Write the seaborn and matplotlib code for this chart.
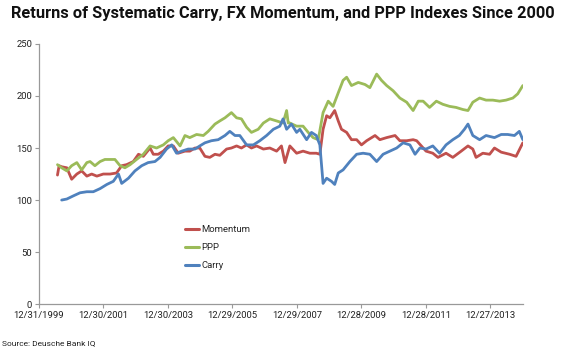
import pandas as pd
import numpy as np
import matplotlib.pyplot as plt
import seaborn as sns

# ---------------- DATA (decimal years) ----------------
mom_t = [2000.57, 2000.62, 2000.70, 2000.86, 2001.01, 2001.17, 2001.32, 2001.48, 2001.63,
         2001.79, 2001.99, 2002.20, 2002.40, 2002.56, 2002.71, 2002.92, 2003.08, 2003.23,
         2003.44, 2003.54, 2003.69, 2003.85, 2004.00, 2004.16, 2004.31, 2004.52, 2004.67,
         2004.83, 2004.98, 2005.14, 2005.29, 2005.45, 2005.60, 2005.81, 2005.96, 2006.12,
         2006.27, 2006.43, 2006.58, 2006.74, 2006.95, 2007.15, 2007.36, 2007.51, 2007.62,
         2007.77, 2007.98, 2008.18, 2008.39, 2008.59, 2008.70, 2008.80, 2008.91, 2009.01,
         2009.16, 2009.27, 2009.37, 2009.53, 2009.68, 2009.84, 2009.99, 2010.15, 2010.41,
         2010.56, 2010.77, 2011.03, 2011.18, 2011.39, 2011.59, 2011.70, 2011.99, 2012.20,
         2012.36, 2012.61, 2012.82, 2013.08, 2013.29, 2013.44, 2013.54, 2013.75, 2013.96,
         2014.11, 2014.32, 2014.58, 2014.78, 2014.99]
mom_v = [124, 133, 132, 131, 120, 125, 128, 123, 125,
         123, 125, 125, 126, 133, 134, 137, 144, 142,
         150, 144, 144, 147, 152, 152, 145, 147, 147,
         150, 150, 142, 141, 144, 143, 149, 150, 152,
         150, 153, 150, 152, 149, 150, 147, 152, 136,
         152, 145, 147, 145, 145, 144, 168, 181, 179,
         186, 176, 168, 165, 158, 158, 153, 157, 162,
         158, 160, 162, 157, 157, 158, 157, 147, 145,
         141, 145, 141, 147, 152, 149, 141, 145, 144,
         150, 146, 144, 142, 155]

ppp_t = [2000.57, 2000.70, 2000.86, 2001.01, 2001.17, 2001.32, 2001.48, 2001.58, 2001.73,
         2001.89, 2002.04, 2002.20, 2002.35, 2002.51, 2002.66, 2002.82, 2003.02, 2003.23,
         2003.44, 2003.64, 2003.85, 2004.00, 2004.16, 2004.37, 2004.52, 2004.67, 2004.88,
         2005.09, 2005.24, 2005.45, 2005.60, 2005.76, 2005.96, 2006.12, 2006.27, 2006.43,
         2006.58, 2006.79, 2006.95, 2007.15, 2007.36, 2007.56, 2007.67, 2007.72, 2007.77,
         2007.98, 2008.18, 2008.34, 2008.49, 2008.65, 2008.80, 2008.96, 2009.11, 2009.27,
         2009.42, 2009.53, 2009.68, 2009.89, 2010.10, 2010.25, 2010.46, 2010.61, 2010.77,
         2010.97, 2011.18, 2011.39, 2011.59, 2011.75, 2011.90, 2012.10, 2012.31, 2012.51,
         2012.72, 2012.92, 2013.13, 2013.29, 2013.44, 2013.65, 2013.85, 2014.06, 2014.27,
         2014.47, 2014.68, 2014.83, 2014.99]
ppp_v = [134, 131, 128, 133, 136, 129, 136, 137, 133,
         137, 139, 139, 139, 133, 131, 134, 139, 144,
         152, 150, 153, 157, 160, 152, 162, 160, 163,
         162, 166, 173, 176, 179, 184, 179, 178, 170,
         165, 168, 174, 178, 176, 174, 186, 174, 174,
         171, 171, 165, 160, 158, 184, 195, 190, 203,
         215, 218, 210, 213, 211, 208, 221, 215, 210,
         205, 198, 194, 186, 195, 195, 189, 195, 192,
         190, 189, 187, 186, 194, 198, 196, 196, 195,
         196, 198, 202, 210]

carry_t = [2000.70, 2000.86, 2001.06, 2001.27, 2001.48, 2001.68, 2001.89, 2002.10, 2002.30,
           2002.46, 2002.56, 2002.77, 2002.97, 2003.18, 2003.38, 2003.59, 2003.75, 2003.95,
           2004.11, 2004.26, 2004.42, 2004.62, 2004.83, 2004.98, 2005.14, 2005.34, 2005.55,
           2005.76, 2005.91, 2006.07, 2006.22, 2006.43, 2006.64, 2006.84, 2007.05, 2007.26,
           2007.46, 2007.56, 2007.67, 2007.82, 2007.98, 2008.08, 2008.29, 2008.44, 2008.59,
           2008.70, 2008.80, 2008.91, 2009.06, 2009.16, 2009.27, 2009.42, 2009.63, 2009.84,
           2010.04, 2010.25, 2010.46, 2010.66, 2010.87, 2011.08, 2011.28, 2011.49, 2011.65,
           2011.80, 2011.99, 2012.20, 2012.41, 2012.61, 2012.82, 2013.02, 2013.18, 2013.29,
           2013.44, 2013.65, 2013.85, 2014.11, 2014.32, 2014.52, 2014.73, 2014.88, 2014.99]
carry_v = [100, 101, 104, 107, 108, 108, 111, 115, 118,
           125, 116, 121, 128, 133, 136, 137, 141, 149,
           153, 145, 147, 149, 149, 152, 155, 157, 158,
           162, 166, 162, 162, 153, 153, 157, 162, 168,
           171, 178, 168, 173, 165, 168, 158, 165, 162,
           153, 116, 121, 118, 115, 126, 129, 137, 144,
           145, 144, 137, 144, 147, 150, 155, 153, 144,
           150, 149, 152, 145, 153, 158, 162, 168, 173,
           162, 158, 162, 160, 163, 163, 162, 166, 158]

series_names = ["Momentum", "PPP", "Carry"]
colors = ["#C0504D", "#9BBB59", "#4F81BD"]
tick_dates = ["1999-12-31", "2001-12-30", "2003-12-30", "2005-12-29",
              "2007-12-29", "2009-12-28", "2011-12-28", "2013-12-27"]
# --------------------------------------------------------------------------


def to_date(years):
    base = pd.Timestamp("2000-01-01")
    return [base + pd.Timedelta(days=(y - 2000) * 365.25) for y in years]


frames = []
for name, t, v in zip(series_names, [mom_t, ppp_t, carry_t], [mom_v, ppp_v, carry_v]):
    frames.append(pd.DataFrame({"date": to_date(t), "value": v, "series": name}))
df = pd.concat(frames, ignore_index=True)

sns.set_style("white")
plt.rcParams["font.family"] = ["Roboto", "DejaVu Sans"]

fig = plt.figure(figsize=(5.65, 3.57), dpi=100)
ax = fig.add_axes([0.069, 0.148, 0.857, 0.729])

sns.lineplot(data=df, x="date", y="value", hue="series", hue_order=series_names,
             palette=colors, linewidth=2.0, ax=ax)

ax.set_ylim(0, 250)
ax.set_yticks(range(0, 251, 50))
ax.set_xlim(pd.Timestamp("1999-12-31"), pd.Timestamp("2015-01-01"))
ticks = pd.to_datetime(tick_dates)
ax.set_xticks(ticks)
ax.set_xticklabels([d.strftime("%-m/%d/%Y") for d in ticks])
ax.set_xlabel("")
ax.set_ylabel("")

for s in ["top", "right"]:
    ax.spines[s].set_visible(False)
for s in ["left", "bottom"]:
    ax.spines[s].set_color("#999999")
    ax.spines[s].set_linewidth(0.9)
ax.tick_params(axis="both", which="both", direction="out", length=3, width=0.8,
               color="#999999", labelsize=6.8, labelcolor="#222222", pad=2,
               bottom=True, left=True)

leg = ax.legend(loc="upper left", bbox_to_anchor=(0.285, 0.335), frameon=False,
                fontsize=6.8, handlelength=1.4, handletextpad=0.3, labelspacing=0.95)
for line in leg.get_lines():
    line.set_linewidth(2.2)

fig.text(0.5, 0.962, "Returns of Systematic Carry, FX Momentum, and PPP Indexes Since 2000",
         ha="center", va="center", fontsize=11.8, fontweight="bold", color="#111111")
fig.text(0.004, 0.038, "Source: Deusche Bank IQ", ha="left", va="center",
         fontsize=6, color="#222222")

fig.savefig("out.png", dpi=100)
